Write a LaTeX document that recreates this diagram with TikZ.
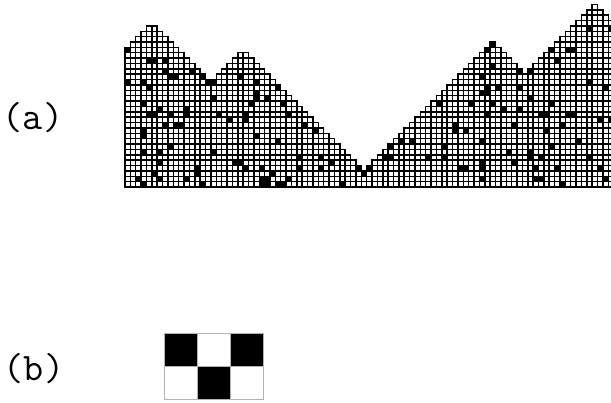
\documentclass[tikz,border=0pt]{standalone}
\usepackage{fontspec}
\begin{document}
\begin{tikzpicture}[x=1pt,y=1pt,
  gridline/.style={draw=black,line width=1.5pt,line cap=rect},
  lab/.style={font=\ttfamily\fontsize{39}{39}\selectfont, inner sep=0pt},
  patcell/.style={draw=gray!60,line width=0.6pt}]
\useasboundingbox (0,0) rectangle (611,403);
\def\s{5.37}
\def\sb{6.87}
\begin{scope}[shift={(125,216)}]
  \foreach \h [count=\c from 0] in {26,27,28,29,30,30,29,28,27,26,25,24,23,22,21,20,20,21,22,23,24,25,25,24,23,22,21,20,19,18,17,16,15,14,13,12,11,10,9,8,7,6,5,4,3,4,5,6,7,8,9,10,11,12,13,14,15,16,17,18,19,20,21,22,23,24,25,26,27,26,25,24,23,22,21,22,23,24,25,26,27,28,29,30,31,32,33,34,33,32,31}{
    \pgfmathsetmacro\xa{\c*\s}
    \pgfmathsetmacro\xb{(\c+1)*\s}
    \pgfmathsetmacro\yt{\h*\s}
    \fill[white] (\xa,0) rectangle (\xb,\yt);
    \draw[gridline] (\xa,0) -- (\xa,\yt) (\xb,0) -- (\xb,\yt);
    \foreach \k in {0,...,\h}{\draw[gridline] (\xa,\k*\s) -- (\xb,\k*\s);}
  }
  \foreach \c/\r in {0/25,4/23,5/23,7/23,7/21,8/20,9/20,12/21,14/20,15/19,16/19,0/19,3/19,4/18,21/20,16/16,3/15,
    4/13,5/13,6/14,8/13,11/13,11/14,17/13,22/13,22/12,7/11,9/11,10/11,19/12,3/9,3/10,8/7,3/6,6/6,16/6,20/4,21/4,6/4,22/3,5/2,13/2,13/3,2/1,6/1,11/1,3/0,14/0,
    24/19,28/18,24/16,24/17,23/15,26/16,29/15,30/13,33/11,35/10,24/9,28/8,25/3,27/2,32/5,32/3,36/5,36/3,38/4,25/1,26/1,25/0,26/0,28/0,29/0,30/1,40/0,43/3,44/2,45/3,
    49/7,51/8,53/8,48/5,49/5,56/5,59/7,59/5,61/10,61/11,63/10,58/15,64/15,67/17,67/18,62/3,63/3,
    67/25,68/26,73/21,75/21,79/25,80/23,82/25,83/25,86/29,90/29,68/22,66/20,66/17,69/18,73/18,86/19,89/18,
    68/15,70/14,73/14,75/16,79/15,67/13,77/13,78/13,82/13,83/13,88/12,90/12,72/11,78/10,81/11,66/8,84/8,79/7,71/6,75/5,75/6,77/5,86/5,66/3,66/4,72/4,76/3,80/3,88/3,66/1,77/1,76/1,81/0,89/1}{
    \fill[black] ({\c*\s-0.75},{\r*\s-0.75}) rectangle ++(\sb,\sb);
  }
\end{scope}
\node[lab] (la) at (33,285) {(a)};
\node[lab] (lb) at (34,34) {(b)};
\foreach \c/\r/\col in {0/1/black,1/1/white,2/1/black,0/0/white,1/0/black,2/0/white}{
  \filldraw[patcell,fill=\col] (164.3+\c*33,3.7+\r*33) rectangle ++(33,33);
}
\end{tikzpicture}
\end{document}
